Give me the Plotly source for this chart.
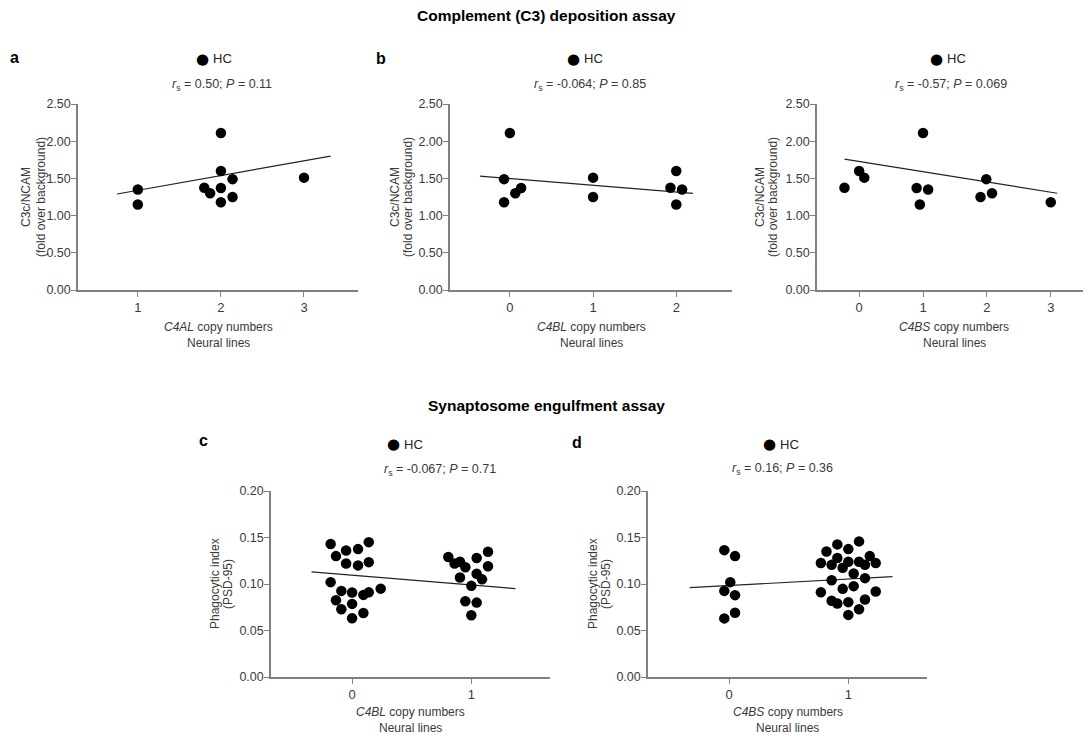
import plotly.graph_objects as go

# page is placed with the browser's default 8px body margin
OFF = 8
W, H = 1091 - OFF, 738 - OFF

# ---------------- data ----------------
# Panel a: C4AL copy numbers vs C3c/NCAM
a_x = [1, 1, 2, 2, 2, 2, 1.8, 1.87, 2.14, 2.14, 3]
a_y = [1.35, 1.15, 2.11, 1.60, 1.37, 1.18, 1.375, 1.30, 1.49, 1.25, 1.51]
a_fit_x = [0.75, 3.32]
a_fit_y = [1.29, 1.80]

# Panel b: C4BL copy numbers vs C3c/NCAM
b_x = [0, -0.07, -0.07, 0.065, 0.135, 1, 1, 2, 1.93, 2.07, 2]
b_y = [2.11, 1.49, 1.18, 1.30, 1.37, 1.51, 1.25, 1.60, 1.375, 1.35, 1.15]
b_fit_x = [-0.36, 2.2]
b_fit_y = [1.53, 1.30]

# Panel (b, right): C4BS copy numbers vs C3c/NCAM
s_x = [1, 0, -0.23, 0.08, 0.9, 1.08, 0.95, 1.99, 1.9, 2.08, 3]
s_y = [2.11, 1.60, 1.375, 1.51, 1.37, 1.35, 1.15, 1.49, 1.25, 1.30, 1.18]
s_fit_x = [-0.23, 3.1]
s_fit_y = [1.76, 1.30]

# Panel c: C4BL copy numbers vs phagocytic index
c_x = [-0.18, -0.135, -0.05, 0.05, 0.14, -0.05, 0.05, 0.14, -0.18, -0.09,
       0.0, 0.095, 0.14, 0.24, -0.135, -0.09, 0.0, 0.095, 0.0,
       0.807, 0.86, 0.905, 0.95, 1.045, 1.14, 1.14, 0.905, 1.045, 1.09,
       1.0, 0.95, 1.045, 1.0]
c_y = [0.143, 0.130, 0.136, 0.1375, 0.145, 0.122, 0.120, 0.1235, 0.102, 0.0926,
       0.0908, 0.0883, 0.091, 0.095, 0.0826, 0.0729, 0.0786, 0.0689, 0.0632,
       0.129, 0.122, 0.124, 0.118, 0.128, 0.1347, 0.119, 0.107, 0.111, 0.105,
       0.098, 0.0815, 0.080, 0.0664]
c_fit_x = [-0.34, 1.37]
c_fit_y = [0.113, 0.095]

# Panel d: C4BS copy numbers vs phagocytic index
d_x = [-0.04, 0.05, 0.01, -0.04, 0.05, 0.05, -0.04,
       1.09, 0.908, 1.0, 0.817, 1.18, 0.908, 0.77, 0.86, 1.0, 1.09, 1.14, 1.23,
       0.953, 1.045, 0.86, 1.14, 0.953, 1.045, 0.77, 1.23, 0.86, 0.908, 1.0,
       1.14, 1.09, 1.0]
d_y = [0.1364, 0.130, 0.102, 0.0926, 0.088, 0.069, 0.063,
       0.1458, 0.1426, 0.1375, 0.135, 0.130, 0.128, 0.1225, 0.1206, 0.124, 0.124,
       0.1206, 0.1225, 0.1174, 0.1113, 0.104, 0.1063, 0.0948, 0.0977, 0.0912,
       0.092, 0.0819, 0.079, 0.0805, 0.0833, 0.0729, 0.0668]
d_fit_x = [-0.33, 1.37]
d_fit_y = [0.096, 0.108]

top_ticks = [0.0, 0.5, 1.0, 1.5, 2.0, 2.5]
bot_ticks = [0.0, 0.05, 0.10, 0.15, 0.20]

stats = [
    "<i>r</i><sub>s</sub> = 0.50; <i>P</i> = 0.11",
    "<i>r</i><sub>s</sub> = -0.064; <i>P</i> = 0.85",
    "<i>r</i><sub>s</sub> = -0.57; <i>P</i> = 0.069",
    "<i>r</i><sub>s</sub> = -0.067; <i>P</i> = 0.71",
    "<i>r</i><sub>s</sub> = 0.16; <i>P</i> = 0.36",
]
xlabels = ["C4AL", "C4BL", "C4BS", "C4BL", "C4BS"]

# ---------------- layout helpers (window pixel -> paper) ----------------
def px(x):
    return (x - OFF) / W

def py(y):
    return 1 - (y - OFF) / H

FONT = "Liberation Sans, Arial, sans-serif"
AXC = "#808080"
TXT = "#3a3a3a"

panels = [
    # (xs, ys, fitx, fity, x0px, x1px, xrange, yrow, xticks, ytitle offsets)
    (a_x, a_y, a_fit_x, a_fit_y, 78, 358, [0.28, 3.65], "top", [1, 2, 3], (-52, -37)),
    (b_x, b_y, b_fit_x, b_fit_y, 450, 732, [-0.72, 2.67], "top", [0, 1, 2], (-55, -42)),
    (s_x, s_y, s_fit_x, s_fit_y, 817, 1091, [-0.66, 3.63], "top", [0, 1, 2, 3], (-57, -44)),
    (c_x, c_y, c_fit_x, c_fit_y, 271, 550, [-0.68, 1.66], "bot", [0, 1], (-56, -43)),
    (d_x, d_y, d_fit_x, d_fit_y, 648, 927, [-0.68, 1.66], "bot", [0, 1], (-55, -42)),
]

fig = go.Figure()
annotations = []

for i, (xs, ys, fx, fy, x0, x1, xr, row, xt, yto) in enumerate(panels):
    n = "" if i == 0 else str(i + 1)
    xa, ya = "x" + n, "y" + n
    if row == "top":
        ytop, ybot = 104, 290
        yrange = [0, 2.5]
        yticks = top_ticks
        ytitle = ["C3c/NCAM", "(fold over background)"]
        xt_dy = (37, 53)
    else:
        ytop, ybot = 491, 677
        yrange = [0, 0.2]
        yticks = bot_ticks
        ytitle = ["Phagocytic index", "(PSD-95)"]
        xt_dy = (35, 51)

    fig.add_trace(go.Scatter(x=fx, y=fy, mode="lines", xaxis=xa, yaxis=ya,
                             line=dict(color="#222222", width=1.2),
                             showlegend=False, hoverinfo="skip"))
    fig.add_trace(go.Scatter(x=xs, y=ys, mode="markers", xaxis=xa, yaxis=ya,
                             name="HC", showlegend=False,
                             marker=dict(color="black", size=10.5, line=dict(width=0))))

    axx = dict(domain=[px(x0), min(px(x1), 1.0)], range=xr, anchor=ya,
               showline=True, linecolor=AXC, linewidth=1.5, ticks="outside",
               ticklen=5, tickwidth=1.2, tickcolor=AXC, tickvals=xt,
               showgrid=False, zeroline=False, automargin=False,
               tickfont=dict(family=FONT, size=13, color=TXT))
    axy = dict(domain=[py(ybot), py(ytop)], range=yrange, anchor=xa,
               showline=True, linecolor=AXC, linewidth=1.5, ticks="outside",
               ticklen=5, tickwidth=1.2, tickcolor=AXC, tickvals=yticks,
               tickformat=".2f", showgrid=False, zeroline=False, automargin=False,
               ticklabelstandoff=-2,
               tickfont=dict(family=FONT, size=12.5, color=TXT))
    fig.update_layout(**{"xaxis" + n: axx, "yaxis" + n: axy})

    # x axis title
    xc = (x0 + x1) / 2
    annotations.append(dict(
        x=px(xc), y=py(ybot + xt_dy[0]), xref="paper", yref="paper",
        text="<i>%s</i> copy numbers" % xlabels[i],
        showarrow=False, xanchor="center", yanchor="middle",
        font=dict(family=FONT, size=12, color=TXT)))
    annotations.append(dict(
        x=px(xc), y=py(ybot + xt_dy[1]), xref="paper", yref="paper",
        text="Neural lines",
        showarrow=False, xanchor="center", yanchor="middle",
        font=dict(family=FONT, size=12, color=TXT)))
    # y axis title (two lines)
    for dx, t in zip(yto, ytitle):
        annotations.append(dict(
            x=px(x0 + dx), y=py((ytop + ybot) / 2), xref="paper", yref="paper",
            text=t, textangle=-90, showarrow=False,
            xanchor="center", yanchor="middle",
            font=dict(family=FONT, size=12, color=TXT)))

# legend and stats annotations
legend_pos = [(202, 59), (573, 59), (936, 59), (393, 444), (769, 444)]
stats_pos = [(222, 85), (590, 85), (951, 85), (440, 470), (782, 469)]
for i in range(5):
    lx, ly = legend_pos[i]
    annotations.append(dict(x=px(lx), y=py(ly), xref="paper", yref="paper",
                            text="●", showarrow=False, xanchor="center", yanchor="middle",
                            font=dict(family="DejaVu Sans", size=15, color="black")))
    annotations.append(dict(x=px(lx + 9), y=py(ly), xref="paper", yref="paper",
                            text="HC", showarrow=False, xanchor="left", yanchor="middle",
                            font=dict(family=FONT, size=13, color="#222222")))
    sx, sy = stats_pos[i]
    annotations.append(dict(x=px(sx), y=py(sy), xref="paper", yref="paper",
                            text=stats[i], showarrow=False, xanchor="center", yanchor="middle",
                            font=dict(family=FONT, size=12.5, color=TXT)))

# panel letters
for letter, (lx, ly) in zip(["a", "b", "c", "d"], [(14, 57), (381, 58), (203, 441), (577, 442)]):
    annotations.append(dict(x=px(lx), y=py(ly), xref="paper", yref="paper",
                            text="<b>%s</b>" % letter, showarrow=False,
                            xanchor="center", yanchor="middle",
                            font=dict(family=FONT, size=16, color="black")))

# section titles
annotations.append(dict(x=px(546), y=py(15), xref="paper", yref="paper",
                        text="<b>Complement (C3) deposition assay</b>", showarrow=False,
                        xanchor="center", yanchor="middle",
                        font=dict(family=FONT, size=15.5, color="black")))
annotations.append(dict(x=px(546), y=py(405), xref="paper", yref="paper",
                        text="<b>Synaptosome engulfment assay</b>", showarrow=False,
                        xanchor="center", yanchor="middle",
                        font=dict(family=FONT, size=15.5, color="black")))

fig.update_layout(width=W, height=H, margin=dict(l=0, r=0, t=0, b=0, autoexpand=False),
                  paper_bgcolor="white", plot_bgcolor="white",
                  annotations=annotations, showlegend=False,
                  font=dict(family=FONT, color=TXT))

fig.write_html("out.html", config={"displayModeBar": False})
